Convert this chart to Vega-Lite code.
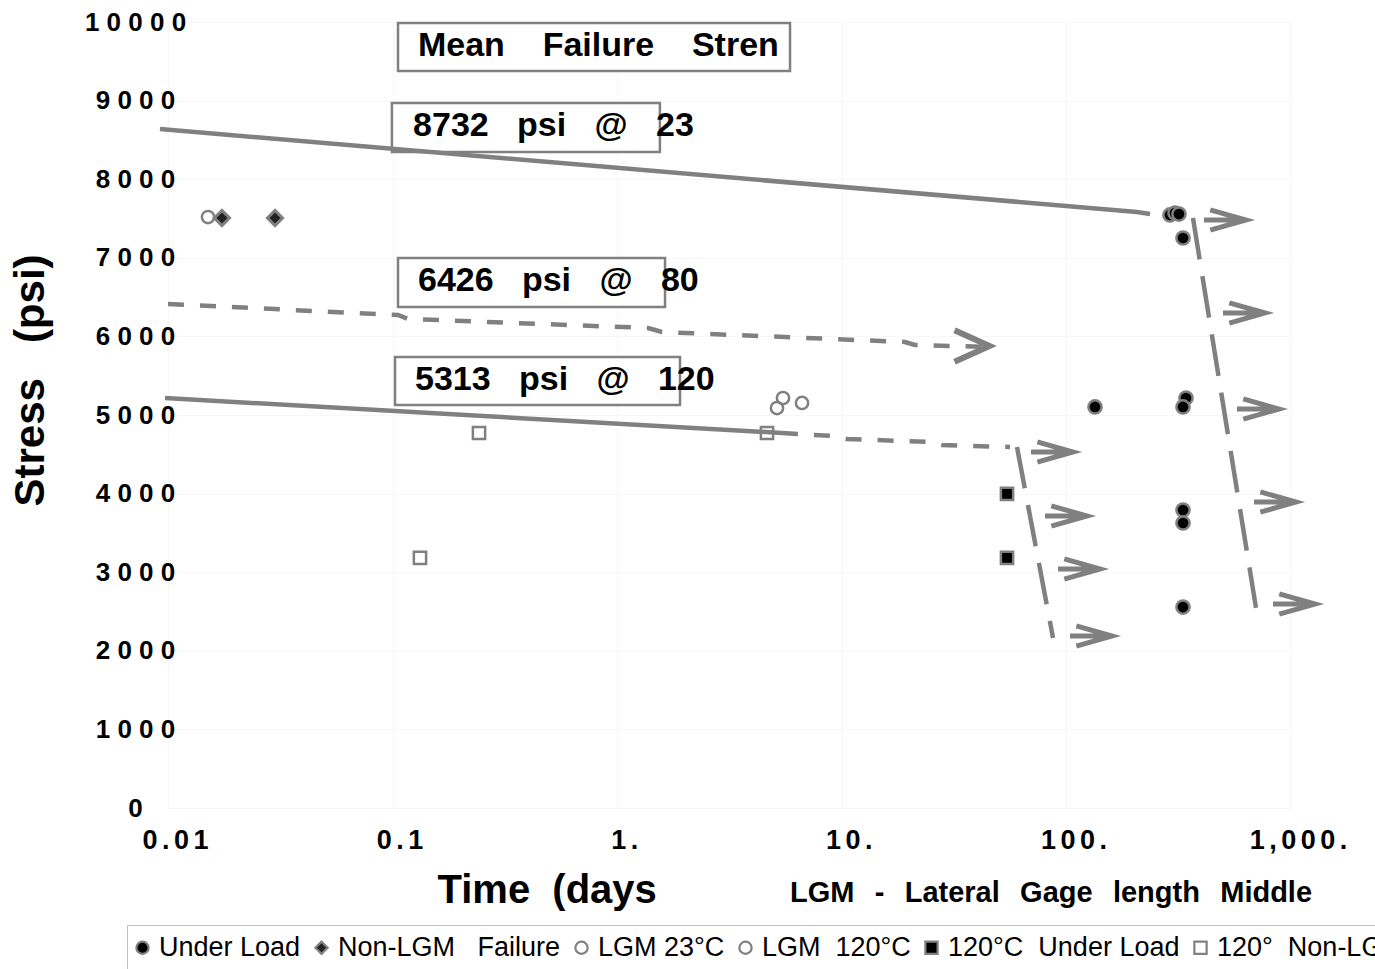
{
  "$schema": "https://vega.github.io/schema/vega-lite/v6.json",
  "width": 1123,
  "height": 786,
  "autosize": {"type": "none"},
  "padding": {"left": 168, "top": 22, "right": 84, "bottom": 161},
  "background": "white",
  "config": {"view": {"stroke": null}, "font": "Liberation Sans"},
  "datasets": {
    "lines": [
      {"line": "A", "t": 0.00921, "s": 8639},
      {"line": "A", "t": 206, "s": 7583},
      {"line": "A", "t": 235.6, "s": 7557},
      {"line": "B", "t": 0.01, "s": 6412},
      {"line": "B", "t": 0.1057, "s": 6272},
      {"line": "B", "t": 0.1171, "s": 6222},
      {"line": "B", "t": 1.371, "s": 6107},
      {"line": "B", "t": 1.583, "s": 6056},
      {"line": "B", "t": 19.11, "s": 5929},
      {"line": "B", "t": 21.18, "s": 5891},
      {"line": "B", "t": 45.7, "s": 5865},
      {"line": "C", "t": 0.0097, "s": 5216},
      {"line": "C", "t": 5.416, "s": 4771},
      {"line": "Cd", "t": 5.416, "s": 4771},
      {"line": "Cd", "t": 9.046, "s": 4733},
      {"line": "Cd", "t": 10.55, "s": 4695},
      {"line": "Cd", "t": 24.2, "s": 4657},
      {"line": "Cd", "t": 27.93, "s": 4618},
      {"line": "Cd", "t": 56.1, "s": 4593},
      {"line": "D", "t": 60.26, "s": 4593},
      {"line": "D", "t": 87.2, "s": 2163},
      {"line": "E", "t": 366, "s": 7507},
      {"line": "E", "t": 698.5, "s": 2545}
    ],
    "arrows": [
      {"t": 508, "s": 7481},
      {"t": 617.6, "s": 6298},
      {"t": 712.8, "s": 5076},
      {"t": 848.7, "s": 3893},
      {"t": 1031, "s": 2595},
      {"t": 86.3, "s": 4529},
      {"t": 99.6, "s": 3715},
      {"t": 113.8, "s": 3041},
      {"t": 128.7, "s": 2188}
    ],
    "bigarrow": [
      {"t": 38.0, "s": 5878}
    ],
    "boxes": [
      {"t": 0.1057, "t2": 5.88, "s": 9377, "s2": 9988},
      {"t": 0.0993, "t2": 1.549, "s": 8346, "s2": 8970},
      {"t": 0.1057, "t2": 1.633, "s": 6374, "s2": 6998},
      {"t": 0.1025, "t2": 1.904, "s": 5127, "s2": 5738}
    ],
    "labels": [
      {"t": 0.1297, "s": 9695, "label": "Mean\u00a0\u00a0\u00a0\u00a0Failure\u00a0\u00a0\u00a0\u00a0Stren"},
      {"t": 0.1234, "s": 8677, "label": "8732\u00a0\u00a0\u00a0psi\u00a0\u00a0\u00a0@\u00a0\u00a0\u00a023"},
      {"t": 0.1297, "s": 6705, "label": "6426\u00a0\u00a0\u00a0psi\u00a0\u00a0\u00a0@\u00a0\u00a0\u00a080"},
      {"t": 0.1258, "s": 5445, "label": "5313\u00a0\u00a0\u00a0psi\u00a0\u00a0\u00a0@\u00a0\u00a0\u00a0120"}
    ],
    "footer": [
      {"t": 5.88, "s": -1081, "label": "LGM\u2002\u2009-\u2002\u2009Lateral\u2002\u2009Gage\u2002\u2009length\u2002\u2009Middle"}
    ],
    "points": [
      {"series": "LGM 23°C", "t": 0.01507, "s": 7519},
      {"series": "LGM\u00a0\u00a0120°C", "t": 5.146, "s": 5089},
      {"series": "LGM\u00a0\u00a0120°C", "t": 5.472, "s": 5216},
      {"series": "LGM\u00a0\u00a0120°C", "t": 6.651, "s": 5153},
      {"series": "120°\u00a0\u00a0Non-LGM\u00a0\u00a0Failure", "t": 0.2425, "s": 4771},
      {"series": "120°\u00a0\u00a0Non-LGM\u00a0\u00a0Failure", "t": 0.1324, "s": 3181},
      {"series": "120°\u00a0\u00a0Non-LGM\u00a0\u00a0Failure", "t": 4.645, "s": 4771},
      {"series": "120°C\u00a0\u00a0Under\u00a0Load", "t": 54.4, "s": 3995},
      {"series": "120°C\u00a0\u00a0Under\u00a0Load", "t": 54.4, "s": 3181}
    ],
    "circles": [
      {"series": "Under Load", "t": 134.1, "s": 5102},
      {"series": "Under Load", "t": 289.3, "s": 7545},
      {"series": "Under Load", "t": 304.5, "s": 7570},
      {"series": "Under Load", "t": 317.2, "s": 7557},
      {"series": "Under Load", "t": 330.5, "s": 7252},
      {"series": "Under Load", "t": 340.8, "s": 5216},
      {"series": "Under Load", "t": 330.5, "s": 5102},
      {"series": "Under Load", "t": 330.5, "s": 3791},
      {"series": "Under Load", "t": 330.5, "s": 3626},
      {"series": "Under Load", "t": 330.5, "s": 2557}
    ],
    "diamonds": [
      {"series": "Non-LGM\u00a0\u00a0\u00a0Failure", "t": 0.01739, "s": 7507},
      {"series": "Non-LGM\u00a0\u00a0\u00a0Failure", "t": 0.02995, "s": 7507}
    ]
  },
  "encoding": {
    "x": {
      "field": "t",
      "type": "quantitative",
      "scale": {"type": "log", "domain": [0.01, 1000], "nice": false},
      "axis": {
        "title": "Time\u00a0\u00a0(days",
        "titleFontSize": 40,
        "titleFontWeight": "bold",
        "titleColor": "#000000",
        "titleAlign": "left",
        "titleAnchor": "start",
        "titleX": 269,
        "titleY": 82,
        "titleBaseline": "middle",
        "values": [0.01, 0.1, 1, 10, 100, 1000],
        "labelExpr": "datum.value < 0.05 ? '0\u2006.\u20060\u20061' : datum.value < 0.5 ? '0\u2006.\u20061' : datum.value < 5 ? '1\u2006.' : datum.value < 50 ? '1\u20060\u2006.' : datum.value < 500 ? '1\u20060\u20060\u2006.' : '1\u2006,\u20060\u20060\u20060\u2006.'",
        "labelFontSize": 27,
        "labelFontWeight": "bold",
        "labelColor": "#000000",
        "labelPadding": 32,
        "labelBaseline": "middle",
        "labelOffset": 7,
        "labelFlush": false,
        "labelOverlap": false,
        "ticks": false,
        "tickSize": 0,
        "domain": false,
        "grid": true,
        "gridColor": "#f7f7f7",
        "gridWidth": 1
      }
    },
    "y": {
      "field": "s",
      "type": "quantitative",
      "scale": {"domain": [0, 10000], "nice": false},
      "axis": {
        "title": "Stress\u00a0\u00a0\u00a0(psi)",
        "titleFontSize": 42,
        "titleFontWeight": "bold",
        "titleColor": "#000000",
        "titleX": -138,
        "titleY": 358,
        "titleAlign": "center",
        "titleBaseline": "middle",
        "values": [0, 1000, 2000, 3000, 4000, 5000, 6000, 7000, 8000, 9000, 10000],
        "format": "d",
        "labelExpr": "join(split(datum.label, ''), ' ')",
        "labelFontSize": 26,
        "labelFontWeight": "bold",
        "labelColor": "#000000",
        "labelAlign": "center",
        "labelBaseline": "middle",
        "labelPadding": 33,
        "labelFlush": false,
        "labelOverlap": false,
        "ticks": false,
        "tickSize": 0,
        "domain": false,
        "grid": true,
        "gridColor": "#f7f7f7",
        "gridWidth": 1
      }
    }
  },
  "layer": [
    {
      "data": {"name": "boxes"},
      "mark": {"type": "rect", "fill": "#ffffff", "stroke": "#808080", "strokeWidth": 2.5},
      "encoding": {"x2": {"field": "t2"}, "y2": {"field": "s2"}}
    },
    {
      "data": {"name": "lines"},
      "transform": [{"filter": "datum.line === 'A'"}],
      "mark": {"type": "line", "color": "#808080", "strokeWidth": 4.5},
      "encoding": {}
    },
    {
      "data": {"name": "lines"},
      "transform": [{"filter": "datum.line === 'B'"}],
      "mark": {"type": "line", "color": "#808080", "strokeWidth": 4.5, "strokeDash": [16, 16]},
      "encoding": {}
    },
    {
      "data": {"name": "lines"},
      "transform": [{"filter": "datum.line === 'C'"}],
      "mark": {"type": "line", "color": "#808080", "strokeWidth": 4.5},
      "encoding": {}
    },
    {
      "data": {"name": "lines"},
      "transform": [{"filter": "datum.line === 'Cd'"}],
      "mark": {"type": "line", "color": "#808080", "strokeWidth": 4.5, "strokeDash": [16, 16]},
      "encoding": {}
    },
    {
      "data": {"name": "lines"},
      "transform": [{"filter": "datum.line === 'D' || datum.line === 'E'"}],
      "mark": {"type": "line", "color": "#808080", "strokeWidth": 4.5, "strokeDash": [42, 17]},
      "encoding": {"detail": {"field": "line"}}
    },
    {
      "data": {"name": "arrows"},
      "mark": {"type": "point", "shape": "M-1,0L1,0M-0.7,-0.48L1,0L-0.7,0.48", "filled": false, "stroke": "#808080", "strokeWidth": 5, "size": 1764, "opacity": 1}
    },
    {
      "data": {"name": "bigarrow"},
      "mark": {"type": "point", "shape": "M-1,-0.9L1,0L-1,0.9", "filled": false, "stroke": "#808080", "strokeWidth": 6, "size": 1225, "opacity": 1}
    },
    {
      "data": {"name": "labels"},
      "mark": {"type": "text", "align": "left", "baseline": "middle", "fontSize": 34, "fontWeight": "bold", "font": "Liberation Sans", "color": "#000000"},
      "encoding": {"text": {"field": "label"}}
    },
    {
      "data": {"name": "footer"},
      "mark": {"type": "text", "align": "left", "baseline": "middle", "fontSize": 29, "fontWeight": "bold", "font": "Liberation Sans", "color": "#000000"},
      "encoding": {"text": {"field": "label"}}
    },
    {
      "data": {"name": "points"},
      "mark": {"type": "point", "filled": true, "strokeWidth": 2.5, "size": 150, "opacity": 1},
      "encoding": {
        "shape": {
          "field": "series", "type": "nominal",
          "scale": {
            "domain": ["Under Load", "Non-LGM\u00a0\u00a0\u00a0Failure", "LGM 23°C", "LGM\u00a0\u00a0120°C", "120°C\u00a0\u00a0Under\u00a0Load", "120°\u00a0\u00a0Non-LGM\u00a0\u00a0Failure"],
            "range": ["circle", "diamond", "circle", "circle", "square", "square"]
          },
          "legend": {
            "orient": "none", "legendX": -41, "legendY": 903, "direction": "horizontal", "title": null,
            "labelFont": "Liberation Sans", "labelFontSize": 27, "labelColor": "#000000", "labelLimit": 1000,
            "labelOffset": 3, "columnPadding": 9, "padding": 9, "strokeColor": "#bfbfbf", "fillColor": "#ffffff",
            "symbolSize": 150, "symbolStrokeWidth": 2.2, "symbolOffset": -7
          }
        },
        "fill": {
          "field": "series", "type": "nominal",
          "scale": {
            "domain": ["Under Load", "Non-LGM\u00a0\u00a0\u00a0Failure", "LGM 23°C", "LGM\u00a0\u00a0120°C", "120°C\u00a0\u00a0Under\u00a0Load", "120°\u00a0\u00a0Non-LGM\u00a0\u00a0Failure"],
            "range": ["#000000", "#222222", "transparent", "transparent", "#000000", "transparent"]
          },
          "legend": {
            "orient": "none", "legendX": -41, "legendY": 903, "direction": "horizontal", "title": null,
            "labelFont": "Liberation Sans", "labelFontSize": 27, "labelColor": "#000000", "labelLimit": 1000,
            "labelOffset": 3, "columnPadding": 9, "padding": 9, "strokeColor": "#bfbfbf", "fillColor": "#ffffff",
            "symbolSize": 150, "symbolStrokeWidth": 2.2, "symbolOffset": -7
          }
        },
        "stroke": {
          "field": "series", "type": "nominal",
          "scale": {
            "domain": ["Under Load", "Non-LGM\u00a0\u00a0\u00a0Failure", "LGM 23°C", "LGM\u00a0\u00a0120°C", "120°C\u00a0\u00a0Under\u00a0Load", "120°\u00a0\u00a0Non-LGM\u00a0\u00a0Failure"],
            "range": ["#808080", "#808080", "#808080", "#808080", "#808080", "#808080"]
          },
          "legend": {
            "orient": "none", "legendX": -41, "legendY": 903, "direction": "horizontal", "title": null,
            "labelFont": "Liberation Sans", "labelFontSize": 27, "labelColor": "#000000", "labelLimit": 1000,
            "labelOffset": 3, "columnPadding": 9, "padding": 9, "strokeColor": "#bfbfbf", "fillColor": "#ffffff",
            "symbolSize": 150, "symbolStrokeWidth": 2.2, "symbolOffset": -7
          }
        }
      }
    },
    {
      "data": {"name": "circles"},
      "mark": {"type": "point", "filled": true, "strokeWidth": 2.5, "size": 175, "opacity": 1},
      "encoding": {
        "shape": {
          "field": "series", "type": "nominal",
          "scale": {
            "domain": ["Under Load", "Non-LGM\u00a0\u00a0\u00a0Failure", "LGM 23°C", "LGM\u00a0\u00a0120°C", "120°C\u00a0\u00a0Under\u00a0Load", "120°\u00a0\u00a0Non-LGM\u00a0\u00a0Failure"],
            "range": ["circle", "diamond", "circle", "circle", "square", "square"]
          },
          "legend": {
            "orient": "none", "legendX": -41, "legendY": 903, "direction": "horizontal", "title": null,
            "labelFont": "Liberation Sans", "labelFontSize": 27, "labelColor": "#000000", "labelLimit": 1000,
            "labelOffset": 3, "columnPadding": 9, "padding": 9, "strokeColor": "#bfbfbf", "fillColor": "#ffffff",
            "symbolSize": 150, "symbolStrokeWidth": 2.2, "symbolOffset": -7
          }
        },
        "fill": {
          "field": "series", "type": "nominal",
          "scale": {
            "domain": ["Under Load", "Non-LGM\u00a0\u00a0\u00a0Failure", "LGM 23°C", "LGM\u00a0\u00a0120°C", "120°C\u00a0\u00a0Under\u00a0Load", "120°\u00a0\u00a0Non-LGM\u00a0\u00a0Failure"],
            "range": ["#000000", "#222222", "transparent", "transparent", "#000000", "transparent"]
          },
          "legend": {
            "orient": "none", "legendX": -41, "legendY": 903, "direction": "horizontal", "title": null,
            "labelFont": "Liberation Sans", "labelFontSize": 27, "labelColor": "#000000", "labelLimit": 1000,
            "labelOffset": 3, "columnPadding": 9, "padding": 9, "strokeColor": "#bfbfbf", "fillColor": "#ffffff",
            "symbolSize": 150, "symbolStrokeWidth": 2.2, "symbolOffset": -7
          }
        },
        "stroke": {
          "field": "series", "type": "nominal",
          "scale": {
            "domain": ["Under Load", "Non-LGM\u00a0\u00a0\u00a0Failure", "LGM 23°C", "LGM\u00a0\u00a0120°C", "120°C\u00a0\u00a0Under\u00a0Load", "120°\u00a0\u00a0Non-LGM\u00a0\u00a0Failure"],
            "range": ["#808080", "#808080", "#808080", "#808080", "#808080", "#808080"]
          },
          "legend": {
            "orient": "none", "legendX": -41, "legendY": 903, "direction": "horizontal", "title": null,
            "labelFont": "Liberation Sans", "labelFontSize": 27, "labelColor": "#000000", "labelLimit": 1000,
            "labelOffset": 3, "columnPadding": 9, "padding": 9, "strokeColor": "#bfbfbf", "fillColor": "#ffffff",
            "symbolSize": 150, "symbolStrokeWidth": 2.2, "symbolOffset": -7
          }
        }
      }
    },
    {
      "data": {"name": "diamonds"},
      "mark": {"type": "point", "filled": true, "strokeWidth": 3, "size": 230, "opacity": 1},
      "encoding": {
        "shape": {
          "field": "series", "type": "nominal",
          "scale": {
            "domain": ["Under Load", "Non-LGM\u00a0\u00a0\u00a0Failure", "LGM 23°C", "LGM\u00a0\u00a0120°C", "120°C\u00a0\u00a0Under\u00a0Load", "120°\u00a0\u00a0Non-LGM\u00a0\u00a0Failure"],
            "range": ["circle", "diamond", "circle", "circle", "square", "square"]
          },
          "legend": {
            "orient": "none", "legendX": -41, "legendY": 903, "direction": "horizontal", "title": null,
            "labelFont": "Liberation Sans", "labelFontSize": 27, "labelColor": "#000000", "labelLimit": 1000,
            "labelOffset": 3, "columnPadding": 9, "padding": 9, "strokeColor": "#bfbfbf", "fillColor": "#ffffff",
            "symbolSize": 150, "symbolStrokeWidth": 2.2, "symbolOffset": -7
          }
        },
        "fill": {
          "field": "series", "type": "nominal",
          "scale": {
            "domain": ["Under Load", "Non-LGM\u00a0\u00a0\u00a0Failure", "LGM 23°C", "LGM\u00a0\u00a0120°C", "120°C\u00a0\u00a0Under\u00a0Load", "120°\u00a0\u00a0Non-LGM\u00a0\u00a0Failure"],
            "range": ["#000000", "#222222", "transparent", "transparent", "#000000", "transparent"]
          },
          "legend": {
            "orient": "none", "legendX": -41, "legendY": 903, "direction": "horizontal", "title": null,
            "labelFont": "Liberation Sans", "labelFontSize": 27, "labelColor": "#000000", "labelLimit": 1000,
            "labelOffset": 3, "columnPadding": 9, "padding": 9, "strokeColor": "#bfbfbf", "fillColor": "#ffffff",
            "symbolSize": 150, "symbolStrokeWidth": 2.2, "symbolOffset": -7
          }
        },
        "stroke": {
          "field": "series", "type": "nominal",
          "scale": {
            "domain": ["Under Load", "Non-LGM\u00a0\u00a0\u00a0Failure", "LGM 23°C", "LGM\u00a0\u00a0120°C", "120°C\u00a0\u00a0Under\u00a0Load", "120°\u00a0\u00a0Non-LGM\u00a0\u00a0Failure"],
            "range": ["#808080", "#808080", "#808080", "#808080", "#808080", "#808080"]
          },
          "legend": {
            "orient": "none", "legendX": -41, "legendY": 903, "direction": "horizontal", "title": null,
            "labelFont": "Liberation Sans", "labelFontSize": 27, "labelColor": "#000000", "labelLimit": 1000,
            "labelOffset": 3, "columnPadding": 9, "padding": 9, "strokeColor": "#bfbfbf", "fillColor": "#ffffff",
            "symbolSize": 150, "symbolStrokeWidth": 2.2, "symbolOffset": -7
          }
        }
      }
    }
  ]
}
